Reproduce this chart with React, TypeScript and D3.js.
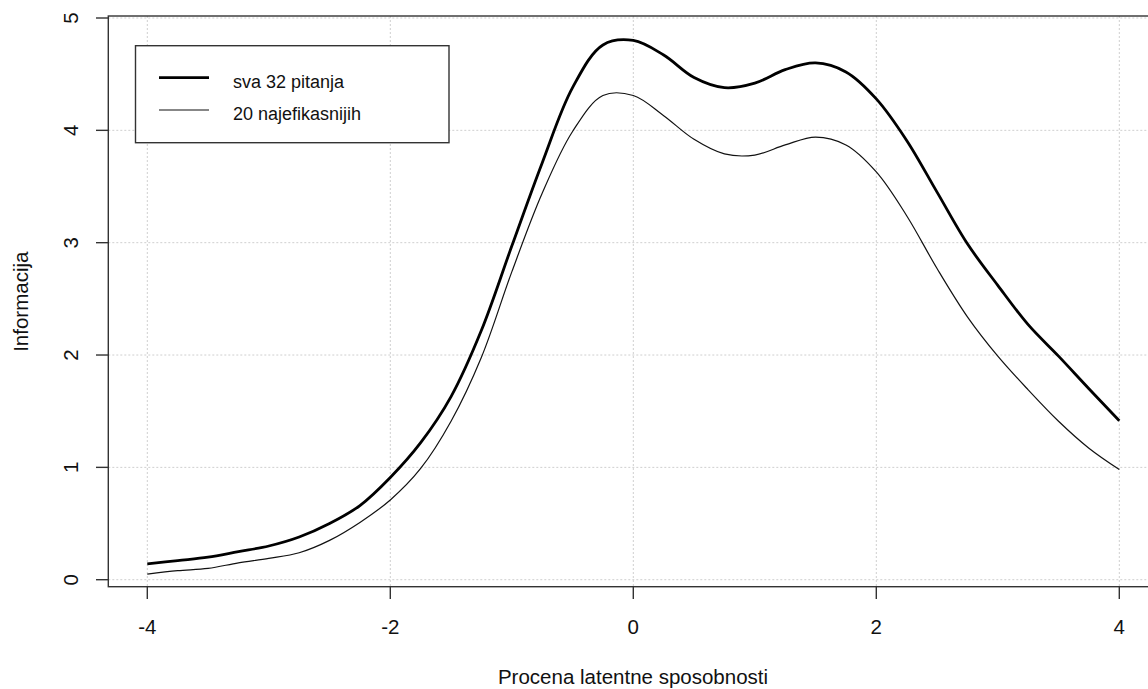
import React from "react";
import * as d3 from "d3";

const theta = [-4, -3.75, -3.5, -3.25, -3, -2.75, -2.5, -2.25, -2, -1.75, -1.5, -1.25, -1, -0.75, -0.5, -0.25, 0, 0.25, 0.5, 0.75, 1, 1.25, 1.5, 1.75, 2, 2.25, 2.5, 2.75, 3, 3.25, 3.5, 3.75, 4];
const infoAll = [0.14, 0.17, 0.2, 0.25, 0.3, 0.38, 0.5, 0.66, 0.91, 1.22, 1.63, 2.22, 2.97, 3.71, 4.38, 4.76, 4.8, 4.67, 4.47, 4.38, 4.42, 4.54, 4.6, 4.52, 4.28, 3.91, 3.45, 2.99, 2.62, 2.27, 1.99, 1.7, 1.415];
const infoTop20 = [0.05, 0.08, 0.1, 0.15, 0.19, 0.24, 0.35, 0.51, 0.71, 0.99, 1.41, 1.98, 2.74, 3.44, 3.99, 4.31, 4.31, 4.13, 3.92, 3.79, 3.78, 3.87, 3.94, 3.87, 3.63, 3.24, 2.77, 2.34, 1.99, 1.69, 1.41, 1.17, 0.98];
const xTicks = [-4, -2, 0, 2, 4];
const yTicks = [0, 1, 2, 3, 4, 5];
const seriesNames = ["sva 32 pitanja", "20 najefikasnijih"];
const xTitle = "Procena latentne sposobnosti";
const yTitle = "Informacija";

const W = 1148;
const H = 689;
const box = { left: 108.3, top: 16, right: 1158, bottom: 586.7 };
const FONT = "'Liberation Sans', Arial, sans-serif";

export default function App() {
  const x = d3.scaleLinear().domain([-4, 4]).range([147.3, 1119.3]);
  const y = d3.scaleLinear().domain([0, 5]).range([579.7, 18]);
  const line = d3
    .line<number>()
    .x((_, i) => x(theta[i]))
    .y((v) => y(v))
    .curve(d3.curveCatmullRom.alpha(0.5));

  const grid = "#cfcfcf";
  const axisCol = "#333";

  return (
    <svg
      width={W}
      height={H}
      style={{ position: "absolute", left: 0, top: 0, background: "#fff" }}
      fontFamily={FONT}
    >
      <rect x={0} y={0} width={W} height={H} fill="#fff" />
      {/* grid */}
      {xTicks.map((t) => (
        <line key={"gx" + t} x1={x(t)} x2={x(t)} y1={box.top} y2={box.bottom} stroke={grid} strokeWidth={1} strokeDasharray="2,2" />
      ))}
      {yTicks.map((t) => (
        <line key={"gy" + t} x1={box.left} x2={box.right} y1={y(t)} y2={y(t)} stroke={grid} strokeWidth={1} strokeDasharray="2,2" />
      ))}
      {/* curves */}
      <path d={line(infoAll) || ""} fill="none" stroke="#000" strokeWidth={2.8} strokeLinejoin="round" />
      <path d={line(infoTop20) || ""} fill="none" stroke="#111" strokeWidth={1.2} strokeLinejoin="round" />
      {/* box */}
      <rect x={box.left} y={box.top} width={box.right - box.left} height={box.bottom - box.top} fill="none" stroke={axisCol} strokeWidth={1.4} />
      {/* x axis */}
      {xTicks.map((t) => (
        <g key={"xt" + t}>
          <line x1={x(t)} x2={x(t)} y1={box.bottom} y2={box.bottom + 12.3} stroke={axisCol} strokeWidth={1.4} />
          <text x={x(t)} y={634} textAnchor="middle" fontSize={20.5} fill="#111">
            {t}
          </text>
        </g>
      ))}
      {/* y axis */}
      {yTicks.map((t) => (
        <g key={"yt" + t}>
          <line x1={box.left - 12.3} x2={box.left} y1={y(t)} y2={y(t)} stroke={axisCol} strokeWidth={1.4} />
          <text transform={`translate(78,${y(t)}) rotate(-90)`} textAnchor="middle" fontSize={20.5} fill="#111">
            {t}
          </text>
        </g>
      ))}
      {/* titles */}
      <text x={633} y={683.5} textAnchor="middle" fontSize={20.5} fill="#111">
        {xTitle}
      </text>
      <text transform={`translate(28,301.7) rotate(-90)`} textAnchor="middle" fontSize={20.5} fill="#111">
        {yTitle}
      </text>
      {/* legend */}
      <rect x={135.5} y={45.7} width={313.5} height={97} fill="#fff" stroke={axisCol} strokeWidth={1.4} />
      <line x1={159} x2={209} y1={77.7} y2={77.7} stroke="#000" strokeWidth={2.8} />
      <line x1={159} x2={209} y1={110} y2={110} stroke="#111" strokeWidth={1.2} />
      <text x={233} y={88.3} fontSize={18} fill="#111">
        {seriesNames[0]}
      </text>
      <text x={233} y={120} fontSize={18} fill="#111">
        {seriesNames[1]}
      </text>
    </svg>
  );
}
